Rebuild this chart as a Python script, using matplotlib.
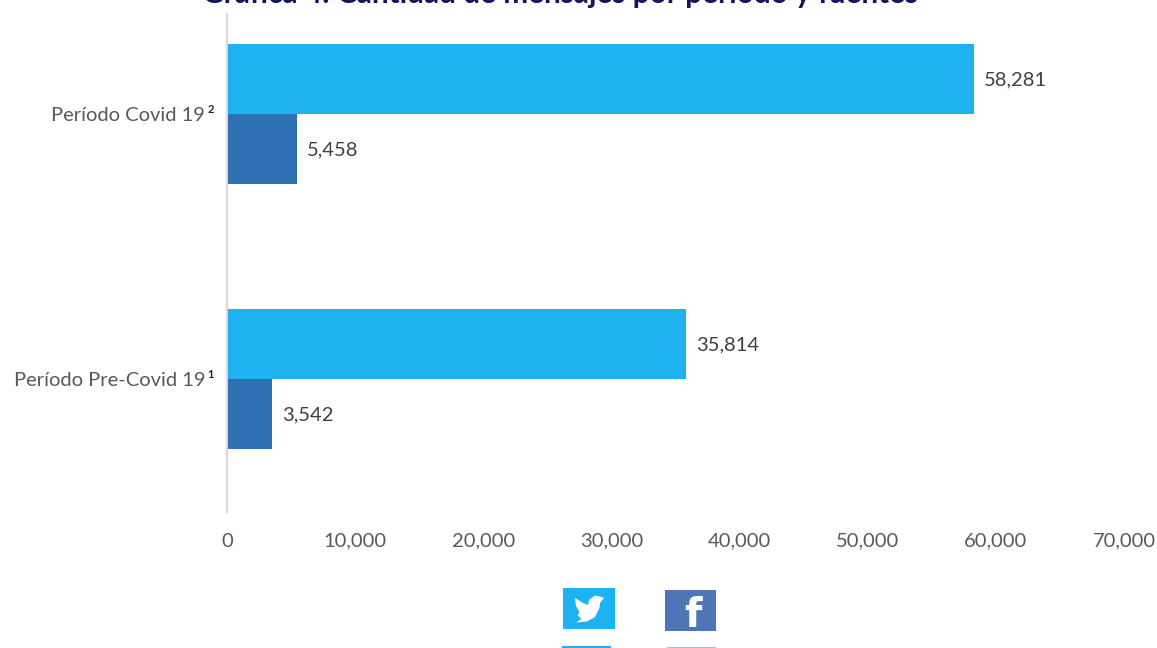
import matplotlib.pyplot as plt
import numpy as np
from matplotlib.patches import Polygon, Rectangle
from matplotlib.ticker import FuncFormatter

periodos = ['Período Pre-Covid 19', 'Período Covid 19']
notas = ['1', '2']
twitter = [35814, 58281]
facebook = [3542, 5458]

plt.rcParams['font.family'] = ['Lato', 'DejaVu Sans']

W, H = 1157, 648
gris = '#595959'
fig = plt.figure(figsize=(W / 100, H / 100), dpi=100)

# eje principal, en pixeles: x 227-1124, y 14-512
ax = fig.add_axes([227 / W, 1 - 512 / H, (1124 - 227) / W, (512 - 14) / H])
y = np.arange(len(periodos))
alto = 0.264
ax.barh(y + alto / 2, twitter, height=alto, color='#1EB2F0')
ax.barh(y - alto / 2, facebook, height=alto, color='#2E71B2')

ax.set_xlim(0, 70000)
ax.set_ylim(-0.502, 1.377)
ax.set_xticks(range(0, 70001, 10000))
ax.xaxis.set_major_formatter(FuncFormatter(lambda v, p: f'{int(v):,}'))
ax.set_yticks(y)
ax.set_yticklabels(periodos)
ax.tick_params(axis='x', length=0, pad=15, labelsize=14.5, labelcolor=gris)
ax.tick_params(axis='y', length=0, pad=15.8, labelsize=14.5, labelcolor=gris)

for s in ['top', 'right', 'bottom']:
    ax.spines[s].set_visible(False)
ax.spines['left'].set_color('#D9D9D9')
ax.spines['left'].set_linewidth(1.5)

for i in y:
    ax.annotate(f'{twitter[i]:,}', (twitter[i], i + alto / 2), xytext=(7, -0.7),
                textcoords='offset points', va='center', fontsize=14.5, color='#404040')
    ax.annotate(f'{facebook[i]:,}', (facebook[i], i - alto / 2), xytext=(7, -0.7),
                textcoords='offset points', va='center', fontsize=14.5, color='#404040')
    # superindice de la etiqueta
    ax.annotate(notas[i], (0, i), xytext=(-11.5, 3), textcoords='offset points', ha='center',
                va='center', fontsize=8, fontweight='bold', color='#262626', annotation_clip=False)

# capa en pixeles para titulo e iconos
capa = fig.add_axes([0, 0, 1, 1])
capa.set_xlim(0, W)
capa.set_ylim(H, 0)
capa.axis('off')
capa.patch.set_alpha(0)

capa.text(560, 3, 'Gráfica 4: Cantidad de mensajes por período y fuentes', ha='center', va='baseline',
          fontsize=21.4, fontweight='bold', color='#14145A')

capa.add_patch(Rectangle((563, 588), 52, 41, color='#1EB2F0', lw=0))
capa.add_patch(Rectangle((665, 590), 51, 41, color='#4E75B6', lw=0))
capa.add_patch(Rectangle((562, 646), 49, 2, color='#1EB2F0', lw=0))
capa.add_patch(Rectangle((667, 647), 49, 1, color='#B4B9C8', lw=0))

pajaro = [(604, 598), (600, 603), (599.5, 608), (595, 617), (587, 621.5), (576, 622.5), (581.5, 619),
          (577.5, 615), (579.5, 612.5), (576, 606), (575, 598), (583, 603), (588, 605), (589, 600),
          (595, 595.5), (600, 596.5)]
capa.add_patch(Polygon(pajaro, closed=True, color='white', lw=0))
capa.text(693, 627, 'f', ha='center', va='baseline', fontsize=29, fontweight='bold', color='white',
          family='DejaVu Sans')

fig.savefig('out.png', dpi=100)
